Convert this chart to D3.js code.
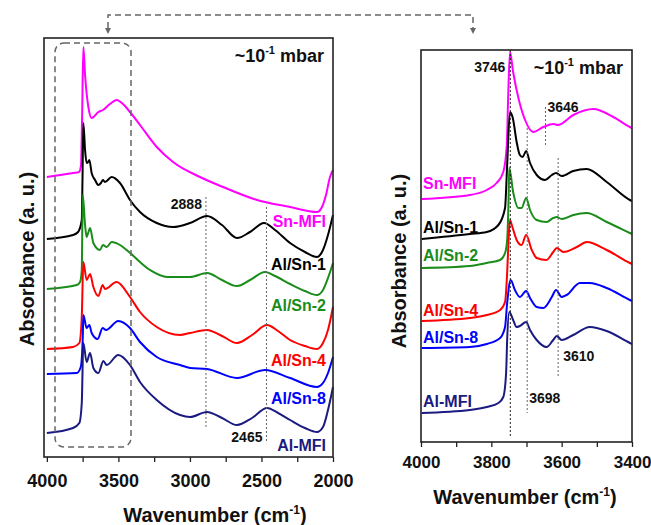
<!DOCTYPE html>
<html>
<head>
<meta charset="utf-8">
<script src="https://cdn.jsdelivr.net/npm/d3@7"></script>
<style>
  body { margin: 0; background: #fff; }
  svg text { font-family: Arial, "Liberation Sans", sans-serif; font-weight: bold; }
</style>
</head>
<body>
<div id="chart"></div>
<script>
// sample names, top to bottom
var samples = ["Sn-MFI", "Al/Sn-1", "Al/Sn-2", "Al/Sn-4", "Al/Sn-8", "Al-MFI"];

// full range spectra, [wavenumber, absorbance a.u. (offset)]
var snMfiWide = [[4000,2.80],[3817,2.84],[3775,2.85],[3761,2.92],[3754,3.37],[3745,4.10],[3733,3.82],[3710,3.50],[3687,3.39],[3640,3.45],[3608,3.47],[3559,3.53],[3512,3.57],[3468,3.53],[3419,3.45],[3349,3.32],[3232,3.10],[3118,2.95],[2930,2.80],[2769,2.70],[2531,2.57],[2300,2.50],[2112,2.45],[2077,2.50],[2049,2.62],[2021,2.80],[2000,2.87]];
var alSn1Wide = [[4000,2.18],[3817,2.22],[3782,2.25],[3756,2.37],[3751,2.77],[3745,3.34],[3733,3.07],[3722,2.94],[3712,2.95],[3703,2.97],[3687,2.84],[3663,2.77],[3640,2.72],[3622,2.74],[3608,2.77],[3594,2.75],[3547,2.80],[3489,2.74],[3419,2.57],[3349,2.45],[3232,2.34],[3118,2.30],[2999,2.34],[2881,2.41],[2776,2.32],[2671,2.19],[2580,2.25],[2482,2.34],[2405,2.27],[2300,2.14],[2196,2.05],[2112,2.00],[2070,2.07],[2035,2.22],[2000,2.42]];
var alSn2Wide = [[4000,1.68],[3791,1.72],[3768,1.75],[3756,1.87],[3749,2.62],[3733,2.32],[3722,2.20],[3709,2.25],[3698,2.29],[3675,2.14],[3629,2.07],[3608,2.12],[3582,2.10],[3547,2.15],[3489,2.12],[3419,2.04],[3279,1.87],[3160,1.80],[2999,1.80],[2881,1.84],[2776,1.77],[2671,1.71],[2580,1.77],[2475,1.85],[2405,1.81],[2300,1.73],[2196,1.66],[2112,1.62],[2070,1.67],[2035,1.79],[2000,1.94]];
var alSn4Wide = [[4000,1.08],[3817,1.10],[3773,1.14],[3756,1.40],[3745,1.95],[3722,1.77],[3698,1.83],[3675,1.70],[3640,1.61],[3610,1.72],[3594,1.68],[3512,1.75],[3419,1.60],[3349,1.45],[3232,1.30],[3069,1.22],[2999,1.24],[2881,1.27],[2776,1.21],[2671,1.14],[2566,1.22],[2461,1.32],[2384,1.26],[2300,1.17],[2196,1.11],[2112,1.08],[2070,1.14],[2035,1.27],[2000,1.50]];
var alSn8Wide = [[4000,0.83],[3791,0.84],[3763,0.90],[3749,1.20],[3745,1.42],[3722,1.29],[3703,1.32],[3687,1.24],[3645,1.18],[3610,1.29],[3587,1.27],[3501,1.36],[3419,1.29],[3349,1.15],[3232,1.00],[3069,0.92],[2999,0.89],[2881,0.88],[2671,0.79],[2475,0.87],[2300,0.79],[2112,0.70],[2070,0.74],[2035,0.84],[2000,1.00]];
var alMfiWide = [[4000,0.24],[3817,0.29],[3773,0.34],[3756,0.54],[3745,1.14],[3722,0.95],[3698,1.04],[3675,0.89],[3640,0.84],[3605,0.96],[3582,0.92],[3501,1.02],[3419,0.92],[3349,0.75],[3232,0.57],[3069,0.42],[2999,0.40],[2881,0.45],[2776,0.39],[2671,0.32],[2566,0.39],[2461,0.49],[2384,0.44],[2300,0.37],[2196,0.29],[2112,0.25],[2070,0.30],[2035,0.47],[2000,0.70]];

// OH region spectra (4000-3400)
var snMfiZoom = [[3998,2.43],[3861,2.47],[3813,2.52],[3785,2.59],[3766,2.70],[3756,2.97],[3752,3.47],[3747,3.90],[3738,3.70],[3723,3.44],[3704,3.22],[3681,3.10],[3652,3.15],[3624,3.18],[3610,3.17],[3567,3.27],[3510,3.33],[3453,3.25],[3406,3.15],[3400,3.14]];
var alSn1Zoom = [[3998,2.03],[3861,2.08],[3813,2.10],[3780,2.17],[3761,2.34],[3755,2.77],[3747,3.30],[3739,3.24],[3728,3.00],[3719,2.87],[3711,2.85],[3701,2.91],[3690,2.79],[3671,2.67],[3647,2.62],[3628,2.67],[3616,2.69],[3600,2.66],[3567,2.71],[3529,2.73],[3472,2.60],[3406,2.42],[3400,2.41]];
var alSn2Zoom = [[3998,1.74],[3861,1.76],[3813,1.79],[3775,1.82],[3761,1.89],[3755,2.02],[3751,2.42],[3749,2.74],[3738,2.50],[3723,2.34],[3714,2.34],[3701,2.44],[3690,2.32],[3671,2.22],[3643,2.20],[3624,2.24],[3614,2.25],[3600,2.23],[3567,2.27],[3529,2.29],[3472,2.20],[3406,2.09],[3400,2.08]];
var alSn4Zoom = [[3998,1.21],[3861,1.24],[3813,1.27],[3775,1.32],[3761,1.40],[3755,1.69],[3751,2.02],[3747,2.22],[3741,2.16],[3728,2.02],[3714,1.97],[3701,2.07],[3685,1.92],[3671,1.84],[3643,1.82],[3624,1.90],[3614,1.94],[3595,1.90],[3557,1.95],[3529,2.00],[3472,1.92],[3406,1.79],[3400,1.78]];
var alSn8Zoom = [[3998,0.94],[3861,0.95],[3813,0.98],[3775,1.04],[3761,1.15],[3755,1.39],[3745,1.62],[3733,1.52],[3719,1.45],[3701,1.51],[3690,1.44],[3671,1.35],[3652,1.34],[3628,1.45],[3616,1.52],[3600,1.45],[3586,1.47],[3548,1.59],[3520,1.59],[3472,1.54],[3406,1.42],[3400,1.41]];
var alMfiZoom = [[3998,0.29],[3861,0.32],[3813,0.35],[3780,0.39],[3766,0.45],[3758,0.69],[3755,1.02],[3749,1.30],[3738,1.22],[3728,1.15],[3719,1.16],[3701,1.20],[3690,1.12],[3671,1.02],[3643,0.95],[3624,1.02],[3614,1.06],[3600,1.02],[3567,1.07],[3520,1.15],[3472,1.11],[3406,0.99],[3400,0.98]];

var wideSeries = [snMfiWide, alSn1Wide, alSn2Wide, alSn4Wide, alSn8Wide, alMfiWide];
var zoomSeries = [snMfiZoom, alSn1Zoom, alSn2Zoom, alSn4Zoom, alSn8Zoom, alMfiZoom];

var widePeaks = [2888, 2465];
var zoomPeaks = [3746, 3698, 3646, 3610];

var wideTicks = [4000, 3500, 3000, 2500, 2000];
var zoomTicks = [4000, 3800, 3600, 3400];

var colors = ["#ff00ff", "#000000", "#1a8c1a", "#ff0000", "#0000ff", "#1a1a80"];

var svgWidth = 651;
var svgHeight = 525;

var svg = d3.select("#chart")
    .append("svg")
    .attr("width", svgWidth)
    .attr("height", svgHeight);

// ---------- left panel ----------
var left = {x0: 44, x1: 333, y0: 38, y1: 457};
var xWide = d3.scaleLinear().domain([4020, 2000]).range([left.x0, left.x1]);
var yWide = d3.scaleLinear().domain([0, 4.19]).range([left.y1, left.y0]);

// ---------- right panel ----------
var right = {x0: 421, x1: 632, y0: 50, y1: 442};
var xZoom = d3.scaleLinear().domain([4000, 3400]).range([right.x0, right.x1]);
var yZoom = d3.scaleLinear().domain([0, 3.92]).range([right.y1, right.y0]);

function drawPanel(p, xs, ys, series, ticks, minorStep, padding, fontSize) {
    var g = svg.append("g");

    var line = d3.line()
        .x(d => xs(d[0]))
        .y(d => ys(d[1]))
        .curve(d3.curveMonotoneX);

    var all = d3.range(xs.domain()[0] - (xs.domain()[0] % minorStep), xs.domain()[1] - 1, -minorStep);
    var axis = d3.axisBottom(xs)
        .tickValues(all)
        .tickSize(5)
        .tickPadding(padding)
        .tickFormat(d => ticks.indexOf(d) >= 0 ? d : "");

    var ax = g.append("g")
        .attr("transform", `translate(0, ${p.y1})`)
        .call(axis);
    ax.select(".domain").remove();
    ax.selectAll("line").attr("stroke", "#222").attr("stroke-width", 1.3);
    ax.selectAll("text").style("font-size", fontSize + "px").attr("fill", "#111");

    g.selectAll("path.spec")
        .data(series)
        .enter()
        .append("path")
        .attr("class", "spec")
        .attr("d", line)
        .attr("fill", "none")
        .attr("stroke", (d, i) => colors[i])
        .attr("stroke-width", 2);

    g.append("rect")
        .attr("x", p.x0)
        .attr("y", p.y0)
        .attr("width", p.x1 - p.x0)
        .attr("height", p.y1 - p.y0)
        .attr("fill", "none")
        .attr("stroke", "#222")
        .attr("stroke-width", 1.6);

    var t = g.append("text")
        .attr("x", p.x1 - 9)
        .attr("y", p.y0 + 24)
        .attr("text-anchor", "end")
        .style("font-size", "18px")
        .attr("fill", "#111");
    t.append("tspan").text("~10");
    t.append("tspan").attr("dy", -8).style("font-size", "11px").text("-1");
    t.append("tspan").attr("dy", 8).text(" mbar");
    return {g: g, ax: ax};
}

var pl = drawPanel(left, xWide, yWide, wideSeries, wideTicks, 250, 12, 18);
var pr = drawPanel(right, xZoom, yZoom, zoomSeries, zoomTicks, 100, 9, 17);
var gl = pl.g, gr = pr.g;

// keep the last right tick label inside the page
pr.ax.selectAll(".tick text").filter(d => d === 3400).attr("text-anchor", "end").attr("dx", "19");

// peak marker lines, left
var wideExtent = [[197, 427], [207, 443]];
gl.selectAll("line.peak")
    .data(widePeaks)
    .enter()
    .append("line")
    .attr("x1", d => xWide(d))
    .attr("x2", d => xWide(d))
    .attr("y1", (d, i) => wideExtent[i][0])
    .attr("y2", (d, i) => wideExtent[i][1])
    .attr("stroke", "#666")
    .attr("stroke-width", 1)
    .attr("stroke-dasharray", "2,2");

gl.append("text").attr("x", xWide(2888) - 4).attr("y", 209).attr("text-anchor", "end")
    .style("font-size", "14px").attr("fill", "#111").text("2888");
gl.append("text").attr("x", xWide(2465) - 4).attr("y", 442).attr("text-anchor", "end")
    .style("font-size", "14px").attr("fill", "#111").text("2465");

// peak marker lines, right
var zoomExtent = [[50, 438], [128, 413], [107, 147], [158, 377]];
gr.selectAll("line.peak")
    .data(zoomPeaks)
    .enter()
    .append("line")
    .attr("x1", d => xZoom(d))
    .attr("x2", d => xZoom(d))
    .attr("y1", (d, i) => zoomExtent[i][0])
    .attr("y2", (d, i) => zoomExtent[i][1])
    .attr("stroke", (d, i) => i === 0 ? "#222" : "#666")
    .attr("stroke-width", 1)
    .attr("stroke-dasharray", "2,2");

var zoomLabels = [
    {t: "3746", x: xZoom(3746) - 5, y: 72, a: "end"},
    {t: "3646", x: xZoom(3646) + 2, y: 112, a: "start"},
    {t: "3610", x: xZoom(3610) + 5, y: 361, a: "start"},
    {t: "3698", x: xZoom(3698) + 2, y: 403, a: "start"}
];
gr.selectAll("text.pk")
    .data(zoomLabels)
    .enter()
    .append("text")
    .attr("x", d => d.x)
    .attr("y", d => d.y)
    .attr("text-anchor", d => d.a)
    .style("font-size", "14px")
    .attr("fill", "#111")
    .text(d => d.t);

// sample labels
var leftLabelY = [227, 270, 311, 366, 404, 451];
gl.selectAll("text.lab")
    .data(samples)
    .enter()
    .append("text")
    .attr("x", 326)
    .attr("y", (d, i) => leftLabelY[i])
    .attr("text-anchor", "end")
    .style("font-size", "16px")
    .attr("fill", (d, i) => colors[i])
    .text(d => d);

var rightLabelY = [189, 233, 261, 316, 343, 407];
gr.selectAll("text.lab")
    .data(samples)
    .enter()
    .append("text")
    .attr("x", 423)
    .attr("y", (d, i) => rightLabelY[i])
    .style("font-size", "16px")
    .attr("fill", (d, i) => colors[i])
    .text(d => d);

// axis titles
function yTitle(x, y) {
    svg.append("text")
        .attr("transform", `translate(${x},${y}) rotate(-90)`)
        .attr("text-anchor", "middle")
        .style("font-size", "20px")
        .attr("fill", "#111")
        .text("Absorbance (a. u.)");
}
yTitle(34, 259);
yTitle(406, 261);

function xTitle(x, y) {
    var t = svg.append("text")
        .attr("x", x)
        .attr("y", y)
        .attr("text-anchor", "middle")
        .style("font-size", "20px")
        .attr("fill", "#111");
    t.append("tspan").text("Wavenumber (cm");
    t.append("tspan").attr("dy", -8).style("font-size", "12px").text("-1");
    t.append("tspan").attr("dy", 8).text(")");
}
xTitle(215, 522);
xTitle(525, 504);

// dashed box on OH region and connector
svg.append("rect")
    .attr("x", 55).attr("y", 43)
    .attr("width", 76).attr("height", 404)
    .attr("rx", 9)
    .attr("fill", "none")
    .attr("stroke", "#666")
    .attr("stroke-width", 1.5)
    .attr("stroke-dasharray", "6,4");

svg.append("path")
    .attr("d", "M108,28 V15 H473 V29")
    .attr("fill", "none")
    .attr("stroke", "#666")
    .attr("stroke-width", 1.5)
    .attr("stroke-dasharray", "6,4");

svg.selectAll("path.arrow")
    .data([108, 473])
    .enter()
    .append("path")
    .attr("d", d => `M${d - 3},28 L${d + 3},28 L${d},34 Z`)
    .attr("fill", "#666");
</script>
</body>
</html>
